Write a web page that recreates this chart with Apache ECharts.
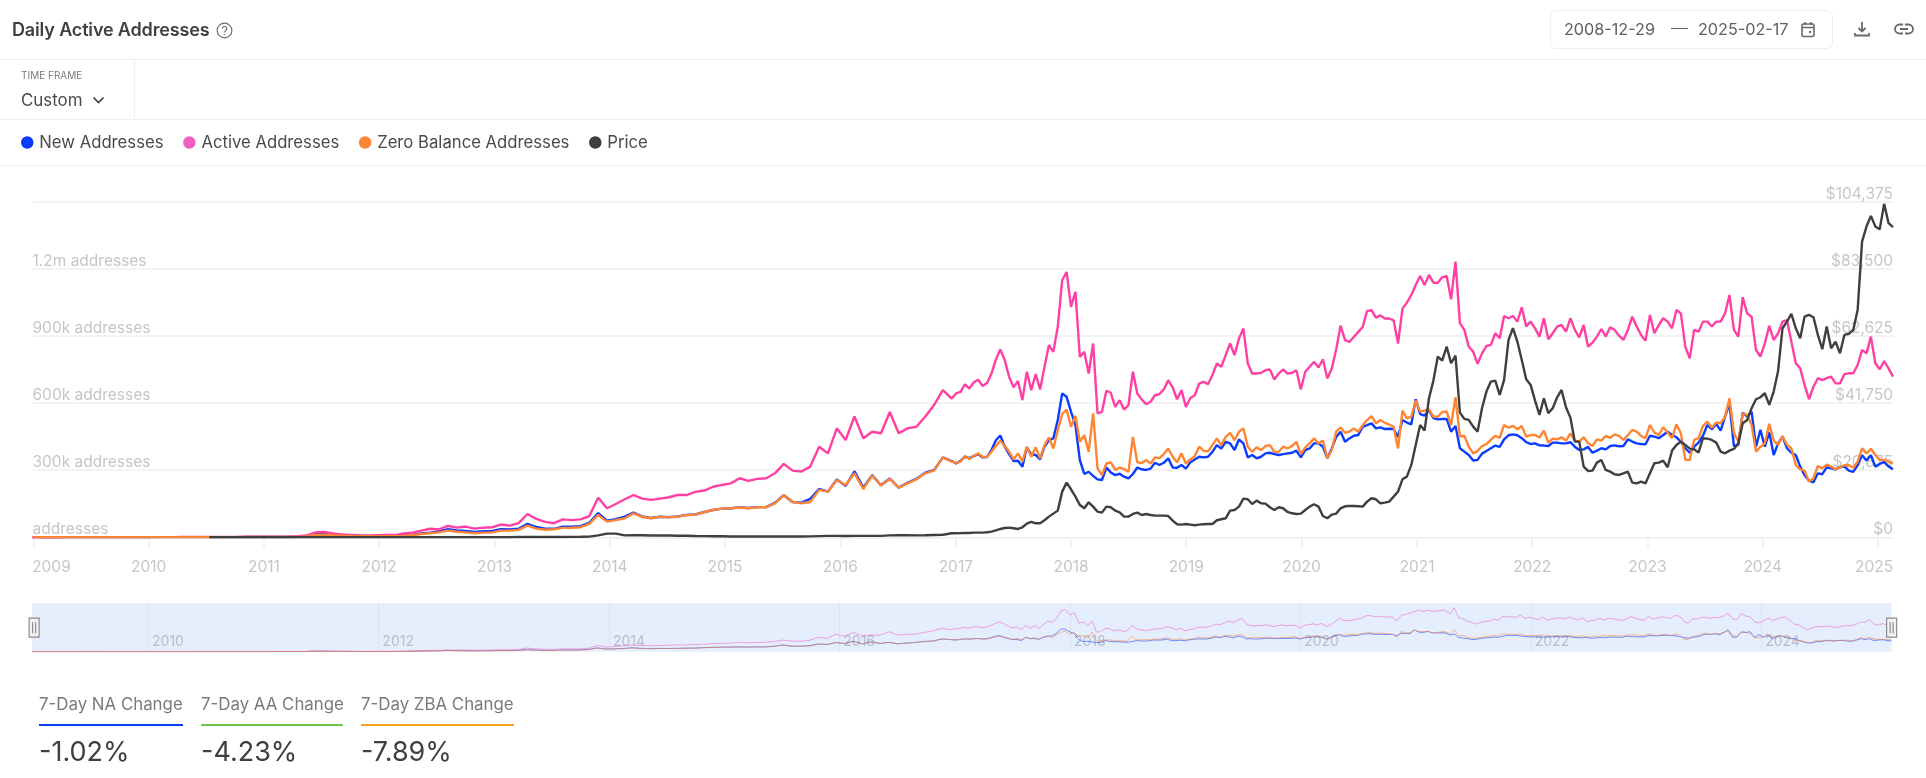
<!DOCTYPE html>
<html>
<head>
<meta charset="utf-8">
<title>Daily Active Addresses</title>
<script src="https://cdn.jsdelivr.net/npm/echarts@6/dist/echarts.min.js"></script>
<style>
    html, body { margin: 0; padding: 0; background: #fff; }
    body { position: relative; width: 1926px; height: 778px; overflow: hidden; font-family: Inter, "Noto Sans", sans-serif; color: #3f3f3f; }
    #chart { position: absolute; left: 0; top: 0; width: 1926px; height: 778px; }
    .abs { position: absolute; white-space: nowrap; }
    .rule { position: absolute; left: 0; width: 1926px; height: 1px; background: #eeeeee; }
    .stat-label { font-size: 16.85px; color: #7a7a7a; top: 694px; line-height: 20px; }
    .stat-line { position: absolute; top: 724px; height: 2px; }
    .stat-value { font-size: 27px; color: #3f3f3f; top: 736px; line-height: 32px; }
</style>
</head>
<body>
<div id="chart"></div>

<div class="abs" style="left:12px;top:19px;font-size:18px;font-weight:600;line-height:22px;letter-spacing:-0.15px;">Daily Active Addresses</div>
<svg class="abs" style="left:216px;top:22px" width="17" height="17" viewBox="0 0 17 17" fill="none" stroke="#6a6a6a" stroke-width="1.1">
    <circle cx="8.5" cy="8.5" r="7.4"/>
    <path d="M6.3 6.7a2.2 2.2 0 1 1 3.4 1.9c-.8.5-1.2.9-1.2 1.8M8.5 12v1"/>
</svg>
<div class="rule" style="top:59px"></div>
<div class="rule" style="top:119px"></div>
<div class="rule" style="top:165px"></div>
<div class="abs" style="left:134px;top:60px;width:1px;height:59px;background:#eeeeee"></div>

<div class="abs" style="left:21px;top:69px;font-size:10px;line-height:12px;color:#7a7a7a;">TIME FRAME</div>
<div class="abs" style="left:21px;top:90px;font-size:16.9px;line-height:20px;color:#4a4a4a;">Custom</div>
<svg class="abs" style="left:92px;top:96px" width="13" height="9" viewBox="0 0 13 9" fill="none" stroke="#3f3f3f" stroke-width="1.7"><path d="M1.5 1.5l5 5 5-5"/></svg>

<div class="abs" style="left:1550px;top:10px;width:281px;height:37px;border:1px solid #eeeeee;border-radius:6px;"></div>
<div class="abs" style="left:1564px;top:19px;font-size:16.2px;line-height:20px;color:#5f5f5f;">2008-12-29</div>
<div class="abs" style="left:1671px;top:28px;width:17px;height:1px;background:#5f5f5f;"></div>
<div class="abs" style="left:1698px;top:19px;font-size:16.2px;line-height:20px;color:#5f5f5f;">2025-02-17</div>
<svg class="abs" style="left:1800px;top:21px" width="16" height="17" viewBox="0 0 16 17" fill="none" stroke="#6a6a6a" stroke-width="1.6">
    <rect x="2" y="3" width="12" height="12.5" rx="1.5"/><path d="M2 6.5h12M5 1v3M11 1v3"/><rect x="9" y="10" width="2" height="2" fill="#6a6a6a" stroke="none"/>
</svg>
<svg class="abs" style="left:1853px;top:20px" width="18" height="18" viewBox="0 0 18 18" fill="none" stroke="#6a6a6a" stroke-width="1.8">
    <path d="M9 2v9M5.5 8L9 11.5 12.5 8M2 13v2.5h14V13"/>
</svg>
<svg class="abs" style="left:1894px;top:20px" width="20" height="18" viewBox="0 0 20 18" fill="none" stroke="#6a6a6a" stroke-width="1.8">
    <path d="M9 4.5H5.5a4.5 4.5 0 0 0 0 9H9M11 4.5h3.5a4.5 4.5 0 0 1 0 9H11M6 9h8"/>
</svg>

<div class="abs stat-label" style="left:39px">7-Day NA Change</div>
<div class="stat-line" style="left:39px;width:144px;background:#0a3cf0"></div>
<div class="abs stat-value" style="left:39px">-1.02%</div>
<div class="abs stat-label" style="left:201px">7-Day AA Change</div>
<div class="stat-line" style="left:201px;width:142px;background:#6cc551"></div>
<div class="abs stat-value" style="left:201px">-4.23%</div>
<div class="abs stat-label" style="left:361px">7-Day ZBA Change</div>
<div class="stat-line" style="left:361px;width:153px;background:#f5a31f"></div>
<div class="abs stat-value" style="left:361px">-7.89%</div>

<script>
// Sampling: every 28 days from 2008-12-29 (104 points), then every 14 days to 2025-02-17 (214 points).
var coarseCount = 104, fineCount = 214;

var newAddresses = [
    0.2, 0.2, 0.3, 0.3, 0.3, 0.3, 0.4, 0.4, 0.4, 0.5,
    0.5, 0.5, 0.5, 0.5, 0.6, 0.6, 0.6, 0.7, 0.7, 0.7,
    0.8, 1, 1, 1, 1.1, 1.2, 1.2, 1.3, 1.3, 1.5,
    2, 5, 14, 15, 11, 9, 7, 6, 5, 5,
    5, 6, 7, 12, 17, 21, 26, 36, 31, 28,
    24, 27, 28, 36, 35, 38, 60, 46, 38, 38,
    47, 47, 50, 65, 108, 74, 81, 92, 110, 93,
    86, 92, 90, 93, 100, 102, 113, 122, 128, 130,
    134, 131, 135, 135, 154, 188, 158, 155, 172, 216,
    204, 258, 230, 295, 222, 278, 233, 263, 222, 243,
    261, 289, 300, 357,
    341, 330, 342, 360, 354, 363, 372, 357, 359, 390,
    434, 455, 405, 372, 341, 342, 315, 402, 372, 368,
    348, 405, 434, 442, 524, 643, 628, 561, 501, 345,
    283, 293, 274, 259, 256, 312, 290, 278, 284, 271,
    263, 283, 312, 304, 301, 307, 333, 323, 333, 353,
    312, 311, 323, 307, 335, 348, 360, 357, 360, 382,
    412, 397, 427, 420, 390, 437, 420, 357, 368, 353,
    360, 375, 378, 372, 368, 372, 375, 378, 387, 357,
    390, 397, 420, 420, 405, 353, 397, 449, 472, 427,
    442, 454, 457, 494, 501, 509, 487, 491, 484, 485,
    484, 449, 524, 513, 505, 617, 551, 544, 569, 533,
    527, 529, 529, 472, 498, 398, 383, 368, 343, 346,
    374, 386, 398, 410, 404, 438, 456, 460, 456, 443,
    425, 417, 420, 411, 410, 408, 423, 423, 420, 420,
    425, 405, 390, 393, 404, 378, 387, 398, 393, 408,
    411, 407, 408, 438, 428, 420, 417, 416, 454, 450,
    443, 457, 472, 457, 447, 428, 398, 378, 405, 423,
    454, 502, 483, 507, 477, 539, 599, 408, 413, 557,
    539, 562, 405, 480, 405, 469, 368, 420, 450, 398,
    378, 368, 316, 277, 253, 246, 286, 282, 313, 308,
    304, 313, 317, 298, 292, 323, 367, 343, 367, 316,
    328, 337, 317, 304
];

var activeAddresses = [
    0.3, 0.4, 0.5, 0.5, 0.6, 0.6, 0.7, 0.7, 0.8, 0.8,
    0.8, 0.9, 0.9, 0.9, 1, 1, 1, 1.1, 1.2, 1.2,
    1.5, 1.8, 2, 2, 2.2, 2.5, 2.5, 3, 3, 3.5,
    5, 8, 22, 24, 17, 13, 11, 9, 8, 9,
    10, 10, 17, 21, 30, 38, 35, 51, 43, 48,
    39, 43, 45, 57, 52, 63, 104, 82, 69, 63,
    80, 77, 80, 95, 177, 130, 149, 170, 189, 173,
    167, 173, 179, 189, 189, 203, 209, 226, 234, 241,
    264, 252, 261, 264, 286, 328, 298, 294, 316, 405,
    375, 487, 435, 540, 443, 472, 465, 560, 465, 487,
    494, 539, 591, 658,
    620, 643, 650, 684, 665, 693, 704, 676, 690, 732,
    795, 839, 792, 717, 670, 699, 613, 740, 658, 729,
    661, 762, 859, 829, 940, 1149, 1186, 1030, 1097, 806,
    829, 732, 866, 554, 561, 655, 646, 583, 613, 571,
    591, 740, 643, 616, 595, 606, 635, 640, 661, 702,
    670, 617, 658, 583, 623, 635, 687, 695, 684, 725,
    777, 762, 814, 866, 814, 888, 933, 777, 732, 732,
    735, 747, 750, 705, 732, 750, 732, 735, 747, 661,
    740, 762, 784, 759, 795, 710, 754, 839, 946, 881,
    873, 896, 918, 940, 1012, 1015, 982, 992, 978, 978,
    970, 866, 1022, 1049, 1083, 1128, 1168, 1128, 1173, 1138,
    1138, 1162, 1168, 1064, 1232, 957, 927, 852, 830, 775,
    822, 855, 860, 912, 890, 989, 979, 989, 964, 1028,
    942, 964, 934, 897, 979, 885, 912, 942, 949, 919,
    979, 927, 894, 949, 852, 870, 897, 931, 897, 939,
    927, 901, 882, 927, 986, 942, 904, 879, 994, 912,
    949, 979, 964, 934, 1016, 1001, 852, 800, 927, 919,
    964, 964, 942, 964, 964, 1001, 1083, 927, 897, 1073,
    1001, 986, 837, 808, 867, 945, 882, 912, 964, 971,
    875, 778, 755, 681, 617, 673, 711, 703, 711, 718,
    688, 688, 729, 733, 733, 770, 837, 822, 897, 778,
    751, 788, 755, 718
];

var zeroBalanceAddresses = [
    0.2, 0.2, 0.3, 0.3, 0.3, 0.3, 0.4, 0.4, 0.4, 0.5,
    0.5, 0.5, 0.5, 0.5, 0.6, 0.6, 0.6, 0.7, 0.7, 0.7,
    0.8, 1, 1, 1, 1.1, 1.2, 1.2, 1.3, 1.3, 1.5,
    2, 4, 11, 12, 9, 7, 6, 5, 5, 5,
    5, 5, 6, 10, 15, 18, 22, 30, 25, 22,
    18, 21, 22, 30, 30, 33, 52, 39, 34, 36,
    42, 43, 45, 60, 100, 70, 77, 85, 107, 91,
    85, 92, 89, 92, 100, 101, 113, 122, 128, 130,
    133, 130, 134, 134, 152, 189, 158, 152, 158, 212,
    204, 256, 234, 286, 216, 276, 232, 261, 222, 241,
    259, 286, 298, 357,
    338, 333, 338, 363, 350, 363, 375, 360, 359, 382,
    408, 432, 408, 382, 348, 375, 338, 405, 360, 402,
    353, 412, 446, 397, 479, 551, 571, 494, 542, 427,
    457, 382, 554, 308, 278, 330, 335, 301, 312, 305,
    293, 449, 335, 332, 345, 330, 357, 354, 372, 397,
    360, 335, 375, 330, 348, 363, 405, 387, 384, 412,
    442, 412, 449, 467, 434, 472, 487, 405, 382, 402,
    390, 408, 412, 382, 382, 405, 397, 408, 427, 372,
    402, 420, 442, 420, 432, 353, 390, 472, 491, 467,
    472, 487, 472, 501, 524, 542, 509, 524, 512, 504,
    494, 397, 566, 532, 539, 611, 562, 566, 572, 539,
    539, 560, 562, 502, 626, 450, 454, 405, 375, 386,
    408, 416, 435, 454, 444, 502, 490, 498, 483, 498,
    450, 457, 457, 446, 477, 423, 441, 438, 447, 432,
    465, 432, 428, 447, 420, 408, 438, 432, 453, 444,
    460, 453, 435, 457, 480, 472, 453, 443, 502, 468,
    457, 492, 468, 443, 505, 465, 346, 346, 435, 443,
    498, 517, 490, 513, 510, 539, 621, 465, 428, 554,
    547, 502, 383, 405, 420, 507, 432, 413, 453, 413,
    398, 323, 304, 298, 249, 264, 319, 308, 325, 316,
    304, 313, 322, 323, 311, 338, 398, 375, 396, 368,
    346, 346, 338, 331
];

var price = [
    null, null, null, null, null, null, null, null, null, null,
    null, null, null, null, null, null, null, null, null, null,
    0.07, 0.07, 0.1, 0.2, 0.3, 0.3, 0.4, 0.9, 0.9, 0.8,
    3, 8, 20, 15, 12, 5, 3, 3, 3, 4,
    5, 5, 5, 5, 6, 7, 9, 11, 13, 11,
    11, 12, 13, 20, 30, 90, 130, 110, 120, 100,
    110, 130, 150, 207, 600, 1140, 1140, 600, 620, 620,
    580, 600, 550, 480, 470, 400, 380, 330, 320, 250,
    240, 240, 240, 230, 250, 280, 260, 240, 280, 380,
    430, 450, 420, 440, 430, 450, 440, 600, 660, 640,
    600, 620, 720, 780,
    1244, 1244, 1296, 1348, 1348, 1452, 1452, 1452, 1556, 1763,
    2178, 2593, 2904, 3007, 2800, 2593, 3111, 4252, 4770, 4355,
    4355, 5289, 6429, 7363, 8296, 14207, 17007, 14933, 12651, 10059,
    9022, 10889, 9540, 7985, 7674, 9540, 9333, 8296, 7778, 6429,
    6429, 7259, 7674, 6948, 7259, 6948, 6741, 6741, 6741, 6637,
    5185, 4044, 3941, 4148, 3941, 3733, 3941, 4044, 4148, 4148,
    5289, 5600, 5911, 8296, 8503, 9540, 12029, 11822, 10370, 11407,
    10577, 10474, 9333, 8503, 9333, 9022, 7881, 7466, 7259, 7363,
    8503, 9540, 10266, 9540, 6637, 5911, 7052, 7363, 9022, 9644,
    9748, 9748, 9644, 9540, 11096, 12133, 11822, 10577, 10785, 11096,
    12651, 14207, 18044, 18873, 22503, 28725, 34947, 33184, 43243, 48739,
    56205, 54961, 59316, 54131, 56517, 38784, 36814, 36502, 34428, 32873,
    40132, 45317, 48428, 48739, 44280, 48946, 61390, 65020, 60872, 55168,
    49154, 47391, 42517, 38058, 43243, 38576, 40132, 43554, 45835, 40443,
    37228, 29762, 29762, 21984, 20636, 20740, 23229, 24058, 20947, 20429,
    19599, 19392, 19910, 20429, 17007, 16799, 17318, 16799, 19910, 23021,
    23229, 23851, 21777, 26962, 28725, 29762, 28725, 27584, 27377, 26340,
    30799, 30695, 30280, 29451, 26651, 26132, 26962, 27481, 29243, 35465,
    36502, 40132, 42932, 43554, 44798, 41169, 45317, 51746, 65020, 67094,
    69479, 65020, 61909, 68649, 69168, 68442, 62946, 58487, 65538, 58798,
    60872, 57242, 62946, 63257, 64501, 70723, 91982, 96648, 99967, 96648,
    95819, 103700, 97685, 96441
];

var yearTicks = [2009, 2010, 2011, 2012, 2013, 2014, 2015, 2016, 2017, 2018, 2019, 2020, 2021, 2022, 2023, 2024, 2025];
var miniYearTicks = [2010, 2012, 2014, 2016, 2018, 2020, 2022, 2024];
var addressTicks = { max: 1500, interval: 300 };
var priceTicks = { max: 104375, interval: 20875 };

var DAY = 86400000;
var START = Date.UTC(2008, 11, 29);
var dates = [];
for (var i = 0; i < coarseCount; i++) dates.push(START + i * 28 * DAY);
for (var j = 0; j < fineCount; j++) dates.push(START + (coarseCount * 28 + j * 14) * DAY);
var END = dates[dates.length - 1];

function pairs(values) {
    return values.map(function (v, idx) { return [dates[idx], v]; });
}
function yearStamp(y) { return Date.UTC(y, 0, 1); }

function addressLabel(v) {
    if (v === 0) return 'addresses';
    if (v >= addressTicks.max) return '';
    return (v >= 1000 ? (v / 1000) + 'm' : v + 'k') + ' addresses';
}

var GRID_LEFT = 32.5, GRID_WIDTH = 1860.5;
var LABEL = '#c6c6c6', LINE = '#efefef';
var colors = { na: '#0a3cff', aa: '#ff3fa4', zba: '#ff8533', price: '#3f3f3f' };

function mainLine(name, values, color, yAxisIndex) {
    return {
        name: name, type: 'line', data: pairs(values), xAxisIndex: 0, yAxisIndex: yAxisIndex,
        showSymbol: false, symbol: 'none', connectNulls: false,
        lineStyle: { color: color, width: 2.4 }, itemStyle: { color: color }
    };
}
function miniLine(name, values, color) {
    return {
        name: name, type: 'line', data: pairs(values), xAxisIndex: 1, yAxisIndex: 2,
        showSymbol: false, symbol: 'none', silent: true,
        lineStyle: { color: color, width: 1, opacity: 0.55 }, itemStyle: { color: color }
    };
}

var chart = echarts.init(document.getElementById('chart'));
chart.setOption({
    animation: false,
    textStyle: { fontFamily: 'Inter' },
    legend: {
        data: ['New Addresses', 'Active Addresses', 'Zero Balance Addresses', 'Price'],
        left: 21, top: 134,
        icon: 'circle', itemWidth: 12.5, itemHeight: 12.5, itemGap: 19.6,
        padding: 0,
        textStyle: { fontFamily: 'Inter', fontSize: 16.7, color: '#4a4a4a', padding: [0, 0, 0, 0.8] }
    },
    grid: [
        { left: GRID_LEFT, width: GRID_WIDTH, top: 201.7, height: 335.6 },
        { left: 32, width: 1859.5, top: 603, height: 48.7, show: true, backgroundColor: '#e5eefd', borderWidth: 0 }
    ],
    xAxis: [
        {
            // timestamps on a value axis: custom year ticks are not accepted by the time axis
            type: 'value', gridIndex: 0, min: START, max: END,
            axisLine: { onZero: false, lineStyle: { color: LINE, width: 1.5 } },
            axisTick: { show: true, length: 11, lineStyle: { color: LINE, width: 1.5 }, customValues: yearTicks.map(yearStamp) },
            splitLine: { show: false },
            axisLabel: {
                customValues: yearTicks.map(yearStamp),
                margin: 22, color: LABEL, fontSize: 15.5,
                formatter: function (v) {
                    var y = new Date(v).getUTCFullYear();
                    if (y === yearTicks[0]) return '{first|' + y + '}';
                    if (y === yearTicks[yearTicks.length - 1]) return '{last|' + y + '}';
                    return String(y);
                },
                rich: {
                    first: { color: LABEL, fontSize: 15.5, padding: [0, 0, 0, 36] },
                    last: { color: LABEL, fontSize: 15.5, padding: [0, 8, 0, 0] }
                }
            }
        },
        {
            type: 'value', gridIndex: 1, min: START, max: END,
            axisLine: { show: false, onZero: false },
            axisTick: { show: false, customValues: miniYearTicks.map(yearStamp) },
            splitLine: { show: true, lineStyle: { color: '#dbe3f2', width: 1 } },
            axisLabel: {
                customValues: miniYearTicks.map(yearStamp),
                inside: true, margin: 3, align: 'left', color: '#b6bdcc', fontSize: 14,
                formatter: function (v) { return ' ' + new Date(v).getUTCFullYear(); }
            }
        }
    ],
    yAxis: [
        {
            type: 'value', gridIndex: 0, position: 'left', min: 0, max: addressTicks.max, interval: addressTicks.interval,
            axisLine: { show: false }, axisTick: { show: false },
            splitLine: { show: true, lineStyle: { color: LINE, width: 1.5 } },
            axisLabel: { inside: true, margin: 0, verticalAlign: 'bottom', lineHeight: 15, color: LABEL, fontSize: 15.5, formatter: addressLabel }
        },
        {
            type: 'value', gridIndex: 0, position: 'right', min: 0, max: priceTicks.max, interval: priceTicks.interval,
            axisLine: { show: false }, axisTick: { show: false }, splitLine: { show: false },
            axisLabel: {
                inside: true, margin: 0, verticalAlign: 'bottom', lineHeight: 15, color: LABEL, fontSize: 15.5,
                formatter: function (v) { return '$' + v.toLocaleString('en-US'); }
            }
        },
        {
            type: 'value', gridIndex: 1, min: 0, max: 1370,
            axisLine: { show: false }, axisTick: { show: false }, axisLabel: { show: false }, splitLine: { show: false }
        }
    ],
    dataZoom: [
        {
            type: 'slider', xAxisIndex: 0, filterMode: 'none', start: 0, end: 100,
            left: 32, width: 1859.5, top: 603, height: 48.7,
            backgroundColor: 'transparent', borderColor: 'transparent', fillerColor: 'rgba(0,0,0,0)',
            showDataShadow: false, showDetail: false, brushSelect: false, moveHandleSize: 0,
            handleIcon: 'path://M0 0H10V19H0Z M3.5 4V15 M6.5 4V15',
            handleSize: 19,
            handleStyle: { color: '#f2f2f2', borderColor: '#8c8c8c', borderWidth: 1.2 }
        }
    ],
    series: [
        miniLine('New Addresses', newAddresses, colors.na),
        miniLine('Active Addresses', activeAddresses, '#f060c0'),
        miniLine('Zero Balance Addresses', zeroBalanceAddresses, colors.zba),
        mainLine('New Addresses', newAddresses, colors.na, 0),
        mainLine('Active Addresses', activeAddresses, colors.aa, 0),
        mainLine('Zero Balance Addresses', zeroBalanceAddresses, colors.zba, 0),
        mainLine('Price', price, colors.price, 1)
    ]
});

window.addEventListener('resize', function () { chart.resize(); });
</script>
</body>
</html>
